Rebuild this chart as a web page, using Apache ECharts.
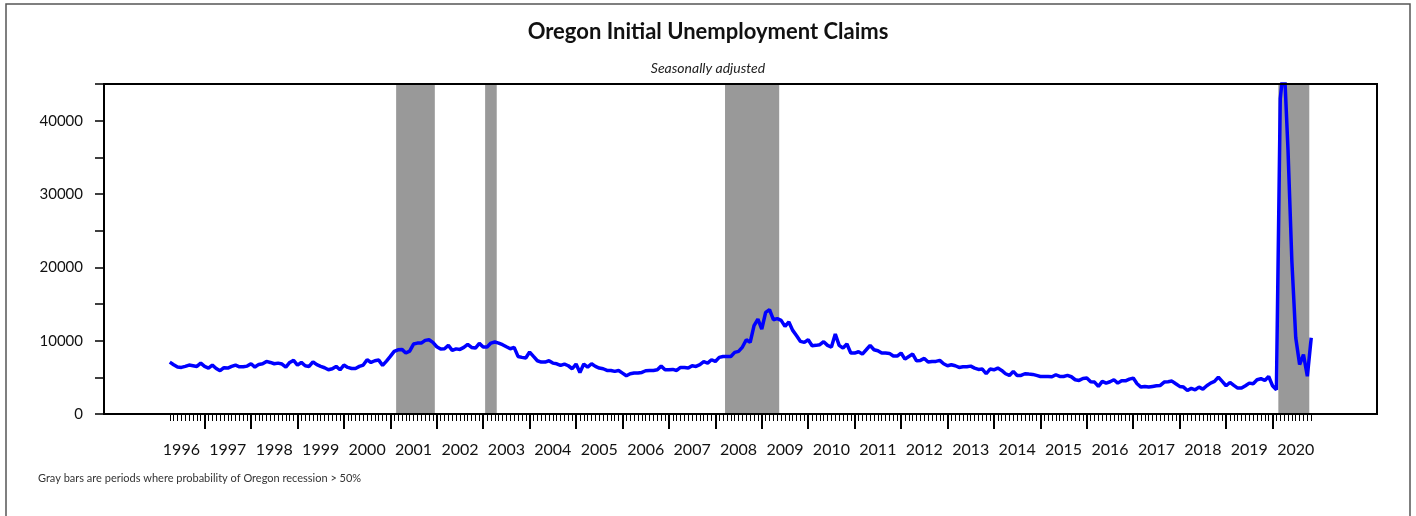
<!DOCTYPE html>
<html>
<head>
<meta charset="utf-8">
<title>Oregon Initial Unemployment Claims</title>
<script src="https://cdn.jsdelivr.net/npm/echarts@6.0.0/dist/echarts.min.js"></script>
<style>
  html, body { margin: 0; padding: 0; background: #fff; }
  #chart { width: 1416px; height: 516px; }
</style>
</head>
<body>
<div id="chart"></div>
<script>
// monthly initial claims, seasonally adjusted, from Apr 1996 to Nov 2020
const firstMonth = '1996-04'
const claims = [
  7080, 6720, 6400, 6350, 6490, 6670, 6580, 6490, 6940,
  6490, 6260, 6670, 6210, 5900, 6310, 6260, 6490, 6670, 6440, 6440, 6530,
  6850, 6400, 6760, 6850, 7170, 7030, 6850, 6940, 6810, 6400, 7030, 7310,
  6670, 7030, 6580, 6490, 7120, 6720, 6490, 6310, 6030, 6170, 6490, 6030,
  6670, 6350, 6210, 6210, 6490, 6670, 7400, 7030, 7260, 7350, 6630, 7220,
  7850, 8540, 8760, 8810, 8310, 8580, 9540, 9670, 9670, 10040, 10130, 9760,
  9170, 8860, 8900, 9360, 8670, 8880, 8810, 9080, 9490, 9080, 8990, 9630,
  9130, 9130, 9670, 9810, 9670, 9450, 9170, 8900, 9080, 7850, 7720, 7630,
  8450, 7850, 7260, 7080, 7080, 7260, 6940, 6850, 6630, 6810, 6580, 6170,
  6810, 5670, 6810, 6400, 6850, 6490, 6260, 6170, 5940, 5940, 5810, 5940,
  5580, 5210, 5490, 5580, 5580, 5670, 5900, 5940, 5940, 6030, 6530, 6030,
  6030, 6080, 5940, 6350, 6350, 6260, 6580, 6490, 6720, 7130, 6940, 7400,
  7170, 7720, 7850, 7850, 7850, 8400, 8540, 9130, 10130, 9760, 12040, 12950,
  11590, 13860, 14220, 12860, 13000, 12770, 11950, 12540, 11400, 10670, 9900, 9760,
  10130, 9310, 9360, 9450, 9860, 9360, 9130, 10900, 9360, 8990, 9540, 8310,
  8310, 8490, 8170, 8760, 9360, 8760, 8630, 8310, 8310, 8260, 7900, 7900,
  8310, 7490, 7850, 8170, 7260, 7310, 7580, 7080, 7170, 7170, 7310, 6850,
  6580, 6720, 6580, 6350, 6440, 6440, 6530, 6260, 6080, 6130, 5490, 6130,
  6030, 6260, 5940, 5490, 5260, 5810, 5260, 5260, 5490, 5440, 5400, 5260,
  5120, 5120, 5120, 5080, 5350, 5120, 5120, 5260, 5080, 4670, 4580, 4850,
  4900, 4400, 4350, 3760, 4440, 4210, 4400, 4670, 4210, 4530, 4530, 4760,
  4900, 4120, 3670, 3760, 3670, 3760, 3850, 3900, 4350, 4400, 4490, 4120,
  3760, 3670, 3210, 3490, 3300, 3670, 3390, 3850, 4210, 4440, 5030, 4440,
  3850, 4300, 3900, 3530, 3530, 3850, 4210, 4120, 4670, 4810, 4580, 5120,
  3850, 3300, 43000, 48000, 36000, 20800, 10400, 6750, 8100, 5150, 10400
]

// gray bars: months where probability of Oregon recession > 50%
const recessions = [
  ['2001-03', '2001-12'],
  ['2003-02', '2003-04'],
  ['2008-04', '2009-05'],
  ['2020-03', '2020-10']
]

const years = []
for (let y = 1996; y <= 2020; y++) years.push(y)
const yLabels = [0, 10000, 20000, 30000, 40000]

// month axis runs a bit past the data on both sides
const base = 1996
const monthIndex = s => (Number(s.slice(0, 4)) - base) * 12 + Number(s.slice(5, 7)) - 1
const axisStart = monthIndex('1994-11')
const axisEnd = monthIndex('2022-04')
const dataStart = monthIndex(firstMonth)
const dataEnd = dataStart + claims.length - 1

const months = []
for (let i = axisStart; i <= axisEnd; i++) {
  const y = base + Math.floor(i / 12)
  const m = ((i % 12) + 12) % 12
  months.push(y + '-' + String(m + 1).padStart(2, '0'))
}
const inData = j => j + axisStart >= dataStart && j + axisStart <= dataEnd

const plotLeft = 104, plotTop = 84, plotRight = 1377, plotBottom = 414
const font = 'Lato, "Open Sans", sans-serif'

const chart = echarts.init(document.getElementById('chart'), null, { renderer: 'canvas' })

chart.setOption({
  animation: false,
  backgroundColor: '#fff',
  title: [
    {
      text: 'Oregon Initial Unemployment Claims',
      left: 'center',
      top: 21,
      padding: 0,
      textStyle: { fontFamily: font, fontWeight: 700, fontSize: 22, color: '#111' }
    },
    {
      text: 'Seasonally adjusted',
      left: 'center',
      top: 61,
      padding: 0,
      textStyle: { fontFamily: font, fontStyle: 'italic', fontWeight: 400, fontSize: 14, color: '#222' }
    },
    {
      text: 'Gray bars are periods where probability of Oregon recession > 50%',
      left: 38,
      top: 473,
      padding: 0,
      textStyle: { fontFamily: font, fontWeight: 400, fontSize: 11, color: '#333' }
    }
  ],
  grid: {
    left: plotLeft,
    top: plotTop,
    width: plotRight - plotLeft,
    height: plotBottom - plotTop
  },
  xAxis: [
    {
      type: 'category',
      data: months,
      boundaryGap: false,
      axisLine: { show: true, onZero: false, lineStyle: { color: '#000', width: 2 } },
      axisTick: { show: true, interval: (j) => inData(j), length: 7, lineStyle: { color: '#000', width: 1 } },
      axisLabel: {
        interval: (j, v) => v.endsWith('-07') && years.includes(Number(v.slice(0, 4))),
        formatter: v => v.slice(0, 4),
        margin: 28,
        fontFamily: font,
        fontSize: 16,
        color: '#111'
      },
      splitLine: { show: false }
    },
    {
      type: 'category',
      data: months,
      boundaryGap: false,
      position: 'bottom',
      axisLine: { show: false, onZero: false },
      axisTick: {
        show: true,
        interval: (j, v) => v.endsWith('-01') && inData(j),
        length: 15,
        lineStyle: { color: '#000', width: 2 }
      },
      axisLabel: { show: false },
      splitLine: { show: false }
    },
    {
      type: 'value',
      min: axisStart,
      max: axisEnd,
      show: false
    }
  ],
  yAxis: {
    type: 'value',
    min: 0,
    max: 45000,
    interval: 5000,
    axisLine: { show: true, onZero: false, lineStyle: { color: '#000', width: 2 } },
    axisTick: { show: true, length: 9, lineStyle: { color: '#000', width: 1.5 } },
    axisLabel: {
      formatter: v => (yLabels.includes(v) ? String(v) : ''),
      margin: 21,
      fontFamily: font,
      fontSize: 15,
      color: '#111'
    },
    splitLine: { show: false }
  },
  series: [
    {
      name: 'Initial claims',
      type: 'line',
      xAxisIndex: 2,
      data: claims.map((v, k) => [dataStart + k, v]),
      showSymbol: false,
      clip: true,
      lineStyle: { color: '#0000ff', width: 3.5 },
      itemStyle: { color: '#0000ff' },
      markArea: {
        silent: true,
        itemStyle: { color: '#999999', opacity: 1 },
        data: recessions.map(r => [
          { xAxis: monthIndex(r[0]) - 0.5 },
          { xAxis: monthIndex(r[1]) + 0.5 }
        ])
      },
      z: 3
    }
  ],
  graphic: [
    {
      type: 'rect',
      z: 100,
      shape: { x: plotLeft, y: plotTop, width: plotRight - plotLeft, height: plotBottom - plotTop },
      style: { fill: null, stroke: '#000', lineWidth: 2 }
    },
    {
      type: 'rect',
      z: 100,
      shape: { x: 6, y: 4, width: 1404, height: 530 },
      style: { fill: null, stroke: '#555', lineWidth: 1.5 }
    }
  ]
})

window.addEventListener('resize', () => {
  chart.resize()
})
</script>
</body>
</html>
